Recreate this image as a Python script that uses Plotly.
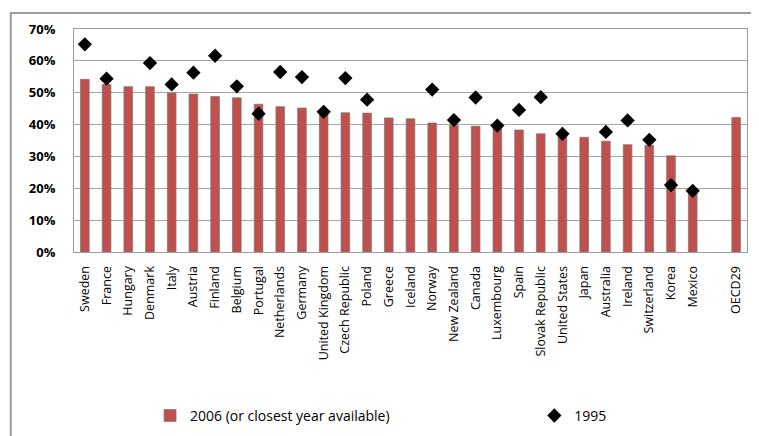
import plotly.graph_objects as go

countries = ["Sweden", "France", "Hungary", "Denmark", "Italy", "Austria", "Finland", "Belgium",
             "Portugal", "Netherlands", "Germany", "United Kingdom", "Czech Republic", "Poland",
             "Greece", "Iceland", "Norway", "New Zealand", "Canada", "Luxembourg", "Spain",
             "Slovak Republic", "United States", "Japan", "Australia", "Ireland", "Switzerland",
             "Korea", "Mexico", " ", "OECD29"]

share_2006 = [0.542, 0.526, 0.519, 0.519, 0.499, 0.496, 0.488, 0.484,
              0.464, 0.456, 0.452, 0.437, 0.437, 0.436,
              0.421, 0.418, 0.405, 0.398, 0.395, 0.391, 0.383,
              0.371, 0.365, 0.360, 0.348, 0.337, 0.335,
              0.302, 0.186, None, 0.422]

share_1995 = [0.652, 0.544, None, 0.593, 0.526, 0.563, 0.616, 0.520,
              0.434, 0.565, 0.549, 0.440, 0.546, 0.478,
              None, None, 0.510, 0.414, 0.485, 0.397, 0.446,
              0.486, 0.371, None, 0.377, 0.413, 0.352,
              0.210, 0.192, None, None]

fig = go.Figure()
fig.add_trace(go.Bar(x=countries, y=share_2006, name="2006 (or closest year available)",
                     marker=dict(color="#C0504D", line=dict(color="rgba(120,120,120,0.7)", width=1)),
                     legend="legend"))
fig.add_trace(go.Scatter(x=countries, y=share_1995, name="1995", mode="markers",
                         marker=dict(symbol="diamond", size=11, color="black"),
                         legend="legend2"))

# outer chart frame (Excel chart area border)
fig.add_shape(type="rect", xref="paper", yref="paper", x0=-0.094, x1=1.05, y0=-0.85, y1=1.072,
              line=dict(color="#9A9A9A", width=2), layer="below")

legend_style = dict(yanchor="middle", y=-0.735, xanchor="left", font=dict(size=14),
                    itemwidth=30, bgcolor="rgba(0,0,0,0)")
fig.update_layout(
    width=759, height=436,
    margin=dict(l=66, r=20, t=18, b=190),
    paper_bgcolor="white", plot_bgcolor="white",
    font=dict(family="Open Sans", color="black"),
    bargap=0.6,
    showlegend=True,
    legend=dict(x=0.113, **legend_style),
    legend2=dict(x=0.684, **legend_style),
)
fig.update_xaxes(type="category", range=[-0.5, len(countries) - 0.5],
                 tickangle=-90, tickfont=dict(size=12.5), ticklabelstandoff=8,
                 showline=True, linecolor="#9A9A9A", mirror=True, ticks="")
fig.update_yaxes(range=[0, 0.7], dtick=0.1, tickformat=".0%", tickfont=dict(size=13, weight="bold"),
                 ticklabelstandoff=15,
                 showgrid=True, gridcolor="#A6A6A6", gridwidth=1,
                 showline=True, linecolor="#9A9A9A", mirror=True, zeroline=False, ticks="")

fig.write_html("out.html")
